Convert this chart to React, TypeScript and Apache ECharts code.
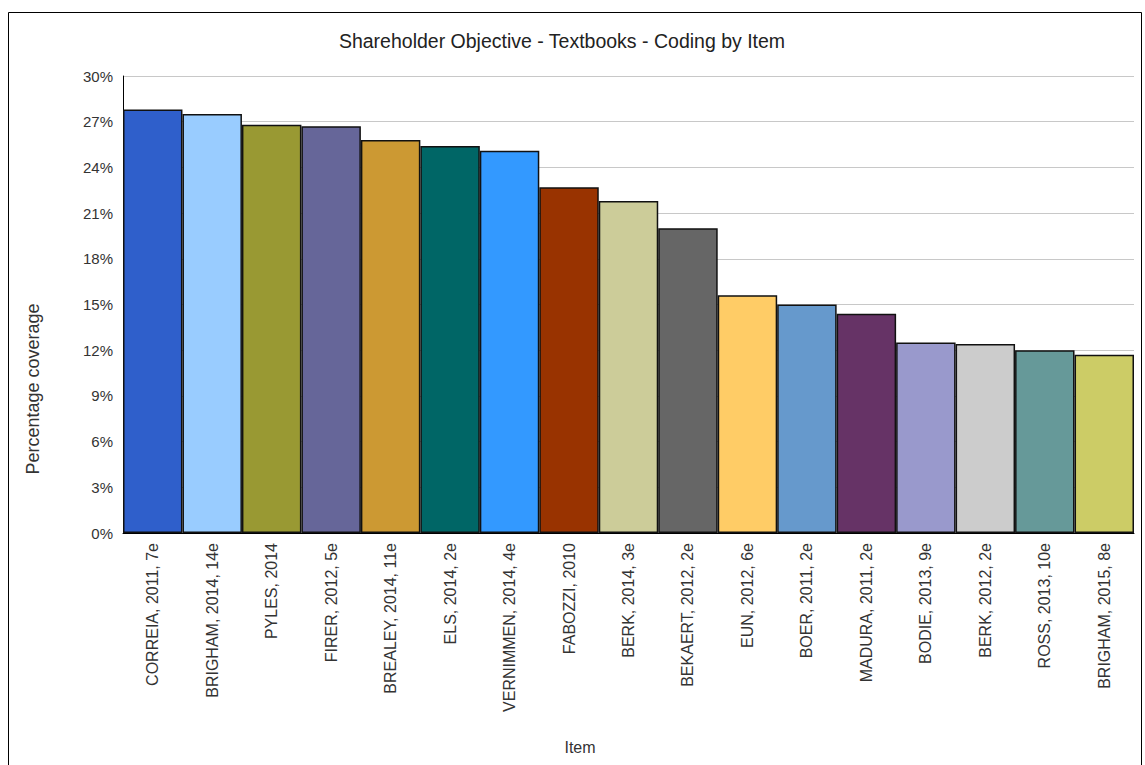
import React, { useEffect, useRef } from "react";
import * as echarts from "echarts";

// Textbooks, ordered by coverage
const items = [
  "CORREIA, 2011, 7e",
  "BRIGHAM, 2014, 14e",
  "PYLES, 2014",
  "FIRER, 2012, 5e",
  "BREALEY, 2014, 11e",
  "ELS, 2014, 2e",
  "VERNIMMEN, 2014, 4e",
  "FABOZZI, 2010",
  "BERK, 2014, 3e",
  "BEKAERT, 2012, 2e",
  "EUN, 2012, 6e",
  "BOER, 2011, 2e",
  "MADURA, 2011, 2e",
  "BODIE, 2013, 9e",
  "BERK, 2012, 2e",
  "ROSS, 2013, 10e",
  "BRIGHAM, 2015, 8e",
];

// Percentage coverage per textbook
const coverage = [
  27.8, 27.5, 26.8, 26.7, 25.8, 25.4, 25.1, 22.7, 21.8, 20.0, 15.6, 15.0, 14.4,
  12.5, 12.4, 12.0, 11.7,
];

const barColors = [
  "#2F5FCB",
  "#99CCFF",
  "#999933",
  "#666699",
  "#CC9933",
  "#006666",
  "#3399FF",
  "#993300",
  "#CCCC99",
  "#666666",
  "#FFCC66",
  "#6699CC",
  "#663366",
  "#9999CC",
  "#CCCCCC",
  "#669999",
  "#CCCC66",
];

const FONT = "'Liberation Sans', Arial, sans-serif";

export default function App() {
  const ref = useRef<HTMLDivElement>(null);

  useEffect(() => {
    if (!ref.current) return;
    const chart = echarts.init(ref.current, undefined, { renderer: "svg" });
    chart.setOption({
      animation: false,
      backgroundColor: "#ffffff",
      textStyle: { fontFamily: FONT },
      grid: { left: 123, right: 11, top: 76, bottom: 232, containLabel: false },
      xAxis: {
        type: "category",
        data: items,
        axisLine: { lineStyle: { color: "#000", width: 1 } },
        axisTick: { show: false },
        axisLabel: {
          interval: 0,
          rotate: 90,
          margin: 10,
          fontSize: 16,
          color: "#333",
          fontFamily: FONT,
        },
      },
      yAxis: {
        type: "value",
        min: 0,
        max: 30,
        interval: 3,
        axisLine: { show: true, lineStyle: { color: "#000", width: 1 } },
        axisTick: { show: false },
        splitLine: { lineStyle: { color: "#c8c8c8", width: 1 } },
        axisLabel: {
          formatter: (v: number) => `${v}%`,
          fontSize: 15,
          color: "#333",
          margin: 10,
          fontFamily: FONT,
        },
      },
      series: [
        {
          type: "bar",
          barCategoryGap: "0%",
          data: coverage.map((v, i) => ({
            value: v,
            itemStyle: { color: barColors[i] },
          })),
          itemStyle: { borderColor: "#111", borderWidth: 1.5 },
        },
      ],
      graphic: [
        {
          type: "rect",
          shape: { x: 8.5, y: 12.5, width: 1133, height: 770 },
          style: { fill: "none", stroke: "#000", lineWidth: 1 },
          silent: true,
        },
        {
          type: "text",
          x: 562,
          y: 41,
          style: {
            text: "Shareholder Objective - Textbooks - Coding by Item",
            font: `19.5px ${FONT}`,
            fill: "#222",
            align: "center",
            verticalAlign: "middle",
          },
        },
        {
          type: "text",
          x: 33,
          y: 389,
          rotation: Math.PI / 2,
          style: {
            text: "Percentage coverage",
            font: `18px ${FONT}`,
            fill: "#333",
            align: "center",
            verticalAlign: "middle",
          },
        },
        {
          type: "text",
          x: 580,
          y: 747,
          style: {
            text: "Item",
            font: `16px ${FONT}`,
            fill: "#333",
            align: "center",
            verticalAlign: "middle",
          },
        },
      ],
    });
    return () => chart.dispose();
  }, []);

  return (
    <div
      ref={ref}
      style={{ position: "absolute", left: 0, top: 0, width: 1145, height: 765 }}
    />
  );
}
